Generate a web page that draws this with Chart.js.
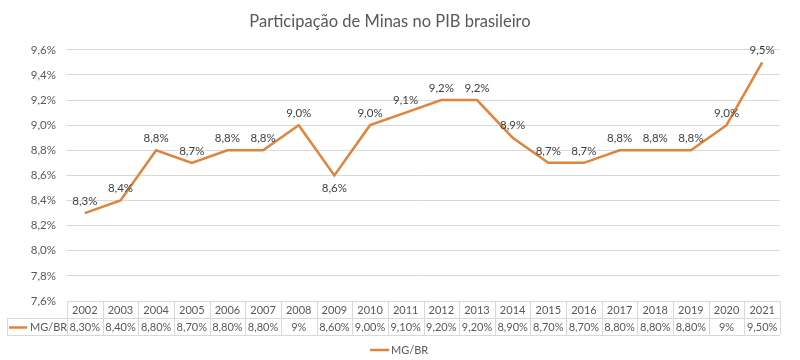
<!DOCTYPE html>
<html>
<head>
<meta charset="utf-8">
<script src="https://cdn.jsdelivr.net/npm/chart.js@4.4.0/dist/chart.umd.min.js"></script>
<style>
html,body{margin:0;padding:0;background:#fff;}
#wrap{width:800px;height:360px;}
</style>
</head>
<body>
<div id="wrap"><canvas id="c" width="800" height="360"></canvas></div>
<script>
const categories = ['2002','2003','2004','2005','2006','2007','2008','2009','2010','2011','2012','2013','2014','2015','2016','2017','2018','2019','2020','2021'];
const seriesName = 'MG/BR';
const values = [8.3, 8.4, 8.8, 8.7, 8.8, 8.8, 9.0, 8.6, 9.0, 9.1, 9.2, 9.2, 8.9, 8.7, 8.7, 8.8, 8.8, 8.8, 9.0, 9.5];
const tableLabels = ['8,30%','8,40%','8,80%','8,70%','8,80%','8,80%','9%','8,60%','9,00%','9,10%','9,20%','9,20%','8,90%','8,70%','8,70%','8,80%','8,80%','8,80%','9%','9,50%'];
const yTicks = [7.6, 7.8, 8.0, 8.2, 8.4, 8.6, 8.8, 9.0, 9.2, 9.4, 9.6];

const FONT = 'Lato, "Open Sans", sans-serif';
const LINE = '#E0843B';
const TXT = '#595959';
const GRID = '#D9D9D9';

const fmt1 = v => v.toFixed(1).replace('.', ',') + '%';

const extras = {
  id: 'extras',
  afterDatasetsDraw(chart) {
    const ctx = chart.ctx;
    const meta = chart.getDatasetMeta(0);
    const data = chart.data.datasets[0].data;
    ctx.save();
    ctx.font = '11.5px ' + FONT;
    ctx.fillStyle = '#404040';
    ctx.textAlign = 'center';
    ctx.textBaseline = 'middle';
    meta.data.forEach((pt, i) => {
      const v = data[i];
      const prev = i > 0 ? data[i-1] : v;
      const next = i < data.length-1 ? data[i+1] : v;
      const below = (prev - v) >= 0.3 && (next - v) >= 0.3;
      ctx.fillText(fmt1(v), pt.x, below ? pt.y + 13 : pt.y - 12);
    });
    ctx.restore();
  },
  afterDraw(chart) {
    const ctx = chart.ctx;
    const x = chart.scales.x;
    const area = chart.chartArea;
    const n = chart.data.labels.length;
    const left = area.left, right = area.right;
    const colW = (right - left) / n;
    const top = Math.round(area.bottom);
    const r1 = top + 17, r2 = top + 34;
    const legLeft = 7;
    ctx.save();
    ctx.strokeStyle = GRID;
    ctx.lineWidth = 1;
    ctx.beginPath();
    ctx.moveTo(left, top + 0.5); ctx.lineTo(right, top + 0.5);
    ctx.moveTo(legLeft, r1 + 0.5); ctx.lineTo(right, r1 + 0.5);
    ctx.moveTo(legLeft, r2 + 0.5); ctx.lineTo(right, r2 + 0.5);
    ctx.moveTo(legLeft + 0.5, r1); ctx.lineTo(legLeft + 0.5, r2);
    for (let i = 0; i <= n; i++) {
      const xx = Math.round(left + i * colW) + 0.5;
      ctx.moveTo(xx, top); ctx.lineTo(xx, r2);
    }
    ctx.stroke();
    ctx.font = '11px ' + FONT;
    ctx.fillStyle = TXT;
    ctx.textAlign = 'center';
    ctx.textBaseline = 'middle';
    chart.data.labels.forEach((lab, i) => {
      const cx = x.getPixelForValue(i);
      ctx.fillText(lab, cx, (top + r1) / 2 + 1);
      ctx.fillText(tableLabels[i], cx, (r1 + r2) / 2 + 1);
    });
    ctx.strokeStyle = LINE;
    ctx.lineWidth = 2.5;
    ctx.beginPath();
    ctx.moveTo(9, (r1 + r2) / 2 + 1); ctx.lineTo(27, (r1 + r2) / 2 + 1);
    ctx.stroke();
    ctx.textAlign = 'left';
    ctx.fillText(seriesName, 30, (r1 + r2) / 2 + 1);
    ctx.beginPath();
    ctx.moveTo(370, 350); ctx.lineTo(389, 350);
    ctx.stroke();
    ctx.fillText(seriesName, 391, 350);
    ctx.restore();
  }
};

new Chart(document.getElementById('c'), {
  type: 'line',
  data: {
    labels: categories,
    datasets: [{
      label: seriesName,
      data: values,
      borderColor: LINE,
      backgroundColor: LINE,
      borderWidth: 2.5,
      pointRadius: 0,
      tension: 0,
      fill: false
    }]
  },
  options: {
    responsive: false,
    animation: false,
    layout: { padding: { left: 0, right: 20, top: 0, bottom: 0 } },
    plugins: {
      legend: { display: false },
      tooltip: { enabled: false },
      title: {
        display: true,
        text: 'Participação de Minas no PIB brasileiro',
        color: TXT,
        font: { family: FONT, size: 16.5, weight: 'normal' },
        padding: { top: 12, bottom: 18 }
      }
    },
    scales: {
      x: {
        offset: true,
        grid: { display: false },
        border: { display: false },
        ticks: { display: false },
        afterFit(s) { s.height = 59; }
      },
      y: {
        min: 7.6,
        max: 9.6,
        afterBuildTicks(s) { s.ticks = yTicks.map(v => ({ value: v })); },
        grid: { color: GRID, drawTicks: false },
        border: { display: false },
        ticks: {
          color: TXT,
          padding: 11,
          font: { family: FONT, size: 11.5 },
          callback: v => fmt1(v)
        },
        afterFit(s) { s.width = 67; }
      }
    }
  },
  plugins: [extras]
});
</script>
</body>
</html>
